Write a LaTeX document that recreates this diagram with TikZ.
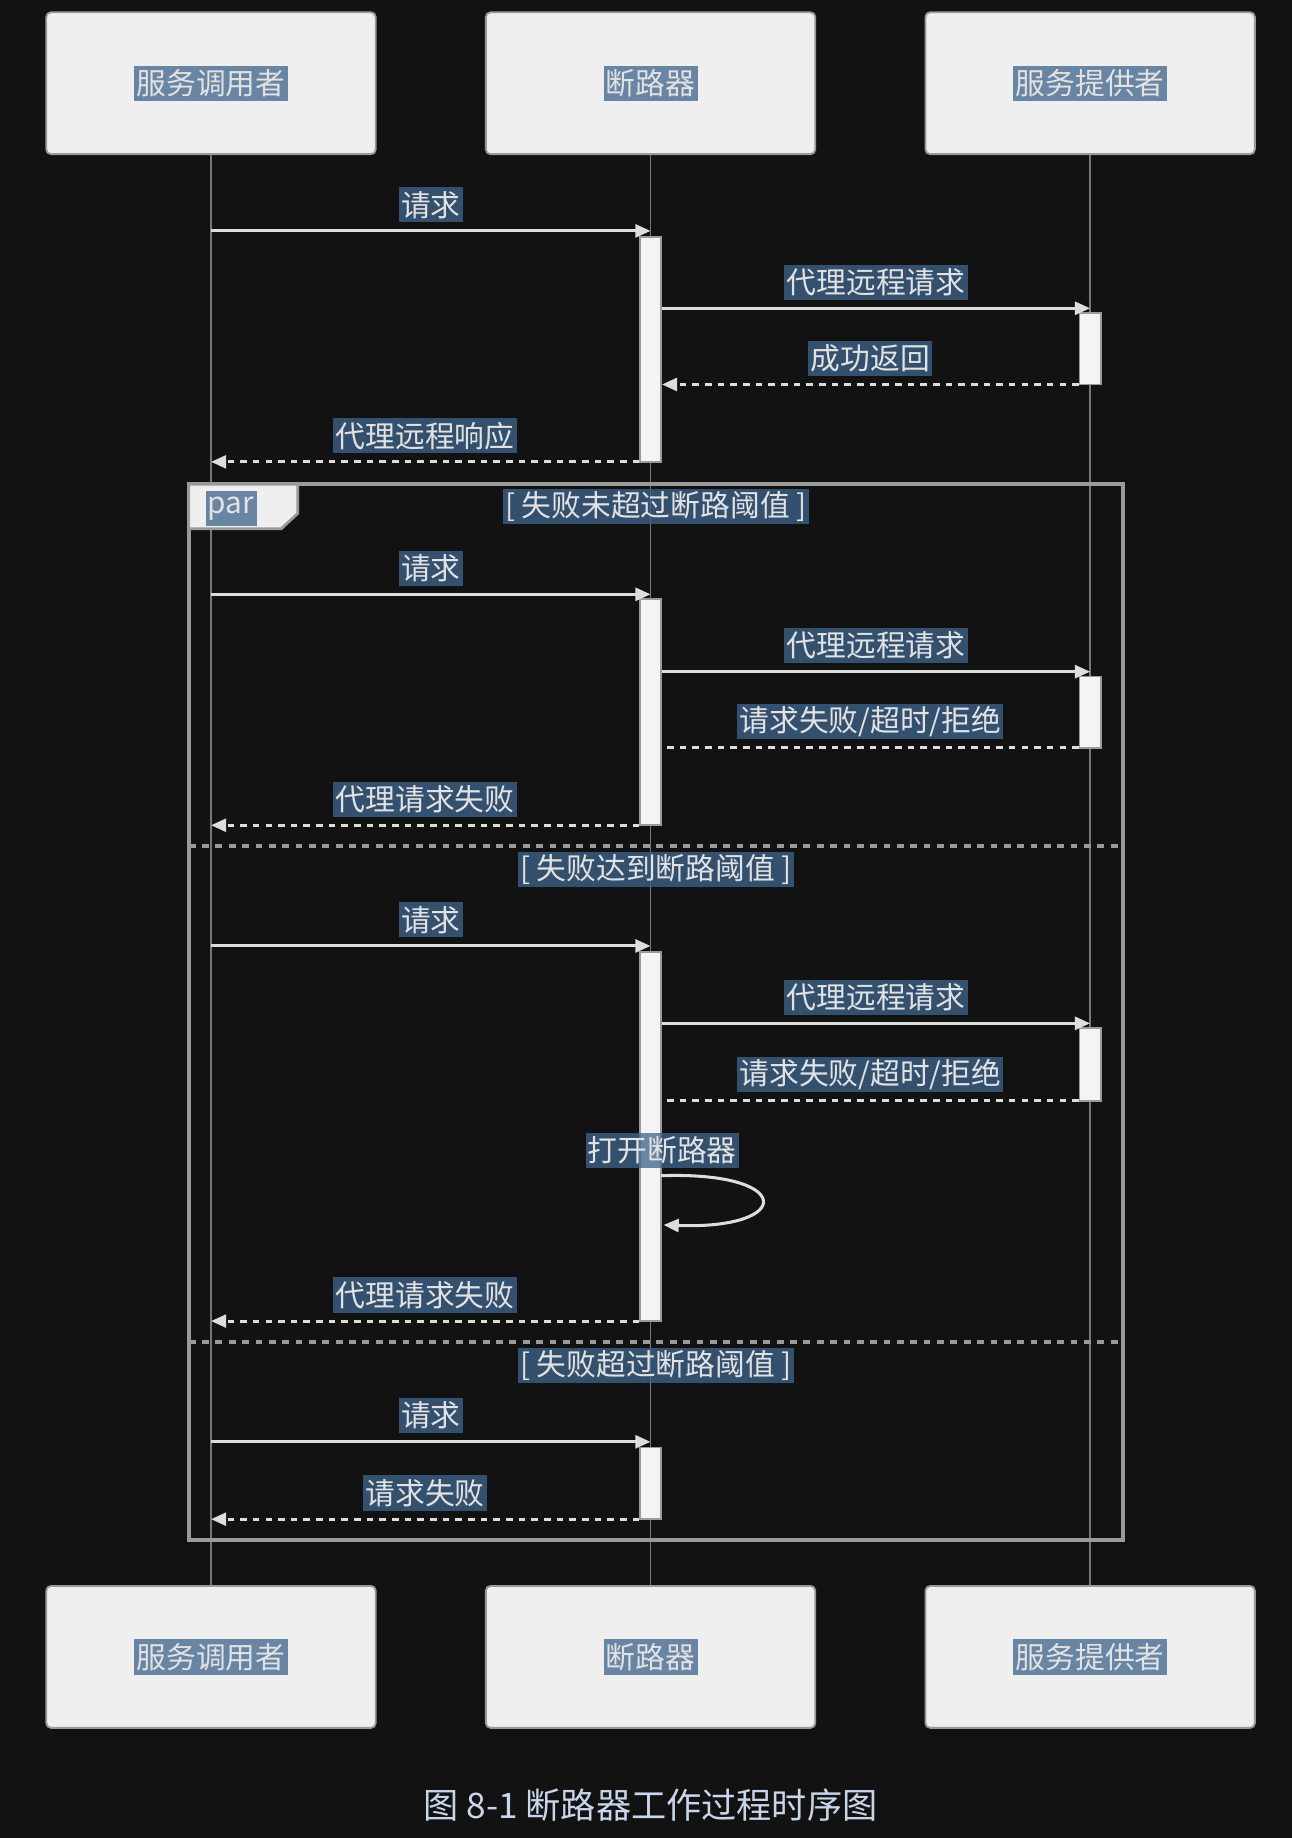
\documentclass[tikz,border=0pt]{standalone}
\usepackage{fontspec}
\setmainfont{Noto Sans CJK SC}
\usetikzlibrary{arrows.meta,positioning,calc}
\definecolor{bgdark}{HTML}{121212}
\definecolor{boxfill}{HTML}{EFEFEF}
\definecolor{barfill}{HTML}{F4F4F4}
\definecolor{boxline}{HTML}{9A9A9A}
\definecolor{lblblue}{HTML}{3F648D}
\definecolor{lbltext}{HTML}{E2E2E2}
\definecolor{msgline}{HTML}{DDDDDD}
\definecolor{lifegray}{HTML}{777777}
\definecolor{captext}{HTML}{C8D5EA}
\tikzset{
  actor/.style={draw=boxline, fill=boxfill, line width=0.8pt, rounded corners=2pt,
    minimum width=140.5pt, minimum height=60.5pt},
  lbl/.style={fill=lblblue, fill opacity=0.76, text opacity=1, text=lbltext,
    font=\fontsize{12.7}{14}\selectfont, inner xsep=1pt, inner ysep=0pt, minimum height=15pt},
  lifeline/.style={draw=lifegray, line width=0.7pt},
  actbar/.style={draw=boxline, fill=barfill, line width=0.7pt, minimum width=9pt, inner sep=0pt},
  msg/.style={draw=msgline, line width=1.3pt, -{Triangle[length=6.5pt,width=5.5pt]}},
  ret/.style={msg, dash pattern=on 2.8pt off 2.6pt},
  retopen/.style={ret, -},
  frame/.style={draw=boxline, line width=1.7pt},
  tab/.style={draw=boxline, fill=boxfill, line width=1.2pt},
  sep/.style={draw=boxline, line width=1.6pt, dash pattern=on 2.9pt off 2.8pt},
}
\begin{document}
\begin{tikzpicture}[x=0.5pt, y=-0.5pt]
  \fill[bgdark] (0,0) rectangle (1102,1568);
  \useasboundingbox (0,0) rectangle (1102,1568);

  % participants
  \node [actor] (cu) at (180,71) {};
  \node [actor] (cb) at (555,71) {};
  \node [actor] (cp) at (930,71) {};
  \node [actor] (cu2) at (180,1413.5) {};
  \node [actor] (cb2) at (555,1413.5) {};
  \node [actor] (cp2) at (930,1413.5) {};
  \node [lbl] at (cu) {服务调用者};
  \node [lbl] at (cb) {断路器};
  \node [lbl] at (cp) {服务提供者};
  \node [lbl] at (cu2) {服务调用者};
  \node [lbl] at (cb2) {断路器};
  \node [lbl] at (cp2) {服务提供者};
  \draw [lifeline] (cu.south) -- (cu2.north);
  \draw [lifeline] (cb.south) -- (cb2.north);
  \draw [lifeline] (cp.south) -- (cp2.north);

  % par frame
  \draw [frame] (161,413) rectangle (958,1314);
  \draw [tab] (161,413) -- (254,413) -- (254,438) -- (240,451) -- (161,451) -- cycle;
  \node [lbl, anchor=west] (par) at (175,434) {par};
  \node [lbl] (g1) at (559.5,432) {[ 失败未超过断路阈值 ]};
  \draw [sep] (161,722) -- (958,722);
  \node [lbl] (g2) at (559.5,742) {[ 失败达到断路阈值 ]};
  \draw [sep] (161,1145) -- (958,1145);
  \node [lbl] (g3) at (559.5,1165) {[ 失败超过断路阈值 ]};

  % activation bars
  \node [actbar, minimum height=96pt] (b1) at (555,298) {};
  \node [actbar, minimum height=30.5pt] (p1) at (930,297.5) {};
  \node [actbar, minimum height=96.5pt] (b2) at (555,607.5) {};
  \node [actbar, minimum height=30.5pt] (p2) at (930,607.5) {};
  \node [actbar, minimum height=157.5pt] (b3) at (555,969.5) {};
  \node [actbar, minimum height=31pt] (p3) at (930,908) {};
  \node [actbar, minimum height=30.5pt] (b4) at (555,1265.5) {};

  % message rows
  \coordinate (r1) at (0,197);
  \coordinate (r2) at (0,263);
  \coordinate (r3) at (0,328);
  \coordinate (r4) at (0,394);
  \coordinate (r5) at (0,507);
  \coordinate (r6) at (0,573);
  \coordinate (r7) at (0,638);
  \coordinate (r8) at (0,704);
  \coordinate (r9) at (0,807);
  \coordinate (r10) at (0,873);
  \coordinate (r11) at (0,939);
  \coordinate (r12) at (0,1127);
  \coordinate (r13) at (0,1230);
  \coordinate (r14) at (0,1296);

  % normal flow
  \draw [msg] (cu |- r1) -- node [lbl, above=3pt] {请求} (cb |- r1);
  \draw [msg] (b1.east |- r2) -- node [lbl, above=3pt] {代理远程请求} (cp |- r2);
  \draw [ret] (p1.west |- r3) -- node [lbl, above=3pt] {成功返回} (b1.east |- r3);
  \draw [ret] (b1.west |- r4) -- node [lbl, above=3pt] {代理远程响应} (cu |- r4);

  % below threshold
  \draw [msg] (cu |- r5) -- node [lbl, above=3pt] {请求} (cb |- r5);
  \draw [msg] (b2.east |- r6) -- node [lbl, above=3pt] {代理远程请求} (cp |- r6);
  \draw [retopen] (p2.west |- r7) -- node [lbl, above=3pt] {请求失败/超时/拒绝} (b2.east |- r7);
  \draw [ret] (b2.west |- r8) -- node [lbl, above=3pt] {代理请求失败} (cu |- r8);

  % threshold reached
  \draw [msg] (cu |- r9) -- node [lbl, above=3pt] {请求} (cb |- r9);
  \draw [msg] (b3.east |- r10) -- node [lbl, above=3pt] {代理远程请求} (cp |- r10);
  \draw [retopen] (p3.west |- r11) -- node [lbl, above=3pt] {请求失败/超时/拒绝} (b3.east |- r11);
  \coordinate (s1) at (564,1003);
  \coordinate (s2) at (566,1045);
  \draw [msg] (s1) .. controls (678,999) and (678,1049) .. (s2);
  \node [lbl, anchor=south] (open) at (565,997) {打开断路器};
  \draw [ret] (b3.west |- r12) -- node [lbl, above=3pt] {代理请求失败} (cu |- r12);

  % above threshold
  \draw [msg] (cu |- r13) -- node [lbl, above=3pt] {请求} (cb |- r13);
  \draw [ret] (b4.west |- r14) -- node [lbl, above=3pt] {请求失败} (cu |- r14);

  % caption
  \node [font=\fontsize{15}{18}\selectfont, text=captext] (cap) at (555,1540) {图 8-1 断路器工作过程时序图};
\end{tikzpicture}
\end{document}
